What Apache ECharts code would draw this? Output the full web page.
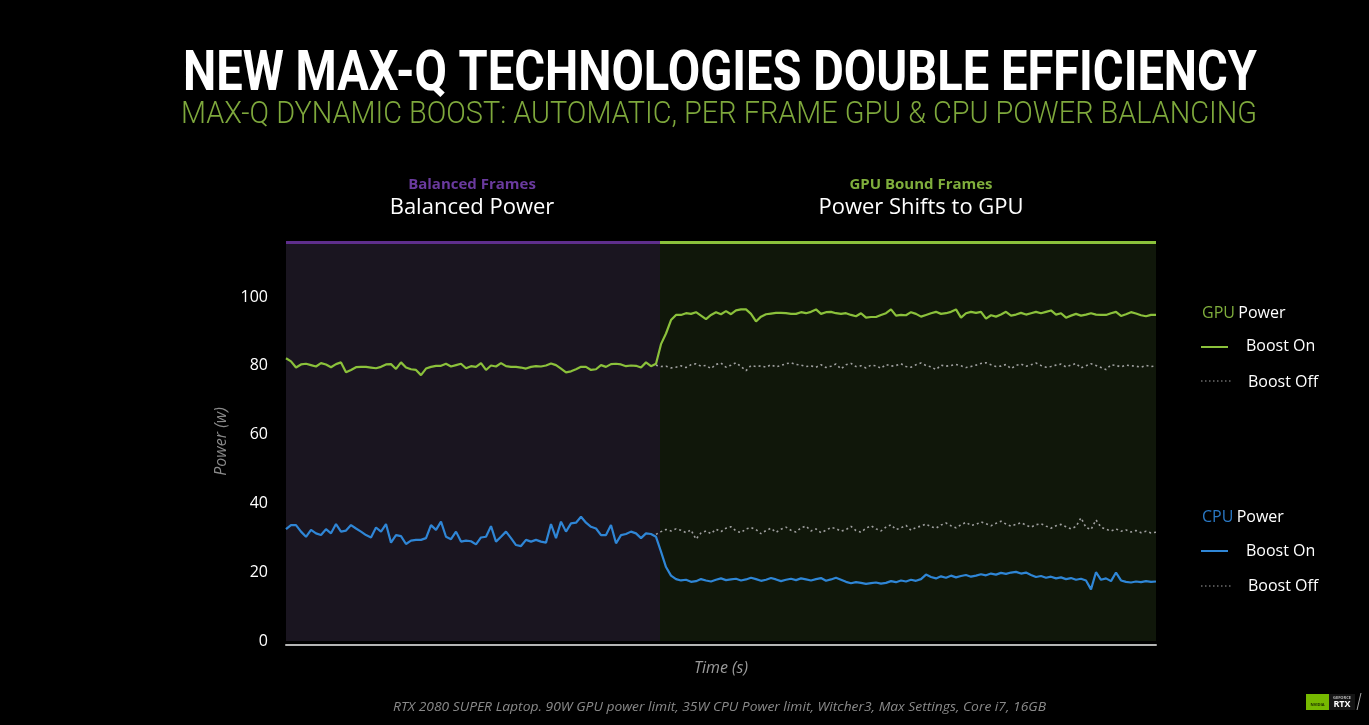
<!DOCTYPE html>
<html><head><meta charset="utf-8">
<script src="https://cdn.jsdelivr.net/npm/echarts@6/dist/echarts.min.js"></script>
<style>html,body{margin:0;padding:0;background:#000;}#c{width:1369px;height:725px;}</style>
</head><body><div id="c"></div>
<script>
// ---- data (time index 0..174, power in W) ----
const yTicks = [0, 20, 40, 60, 80, 100];
const boostStartIndex = 74.8;
const gpuBoostOn = [82.2,81.3,79.5,80.4,80.6,80.2,79.8,80.8,80.4,79.6,80.5,81.0,78.1,78.8,79.6,79.7,79.7,79.5,79.3,79.7,80.4,80.5,79.1,81.0,79.5,79.0,78.8,77.3,79.2,79.7,80.0,80.0,80.6,79.8,80.2,80.6,79.3,79.9,79.7,80.8,78.8,80.1,79.8,80.8,79.9,79.7,79.7,79.5,79.2,79.7,79.9,79.8,80.1,80.7,80.2,79.2,78.1,78.4,79.0,79.7,79.7,78.8,79.0,80.2,79.7,80.5,80.6,80.4,79.9,80.1,80.0,79.5,81.0,79.9,80.6,
  86.3,89.4,93.3,
  94.8,94.8,95.3,95.1,95.6,94.6,93.6,94.8,95.6,95.0,95.9,95.0,96.1,96.4,96.4,95.1,92.9,94.3,95.0,95.2,95.4,95.4,95.3,95.1,95.1,95.6,95.3,95.7,96.4,95.1,95.6,95.7,95.3,95.1,95.3,94.8,94.4,95.3,94.0,94.2,94.2,94.8,95.3,96.4,94.6,94.8,94.7,95.6,95.1,94.3,94.8,95.3,95.7,95.1,95.3,95.7,96.4,94.0,95.3,95.7,95.4,95.7,93.7,94.7,94.3,94.9,95.7,94.6,94.9,95.4,94.9,95.3,95.7,95.3,95.7,96.1,94.9,95.3,94.0,94.6,95.1,94.6,94.9,95.3,94.9,94.8,94.8,95.3,95.7,94.5,95.0,95.6,95.2,94.7,94.4,94.8,94.8];
const gpuBoostOffStart = 74;
const gpuBoostOff = [80.2,79.8,79.9,79.4,79.6,80.0,79.5,80.3,80.6,79.9,80.1,79.2,80.4,80.8,79.6,80.2,80.9,79.8,78.6,80.1,79.8,80.0,79.6,80.3,79.7,80.1,80.6,80.9,80.4,80.2,79.8,80.0,79.6,80.3,79.5,79.9,80.5,79.1,80.3,80.7,79.8,80.0,79.4,80.2,80.0,79.3,80.4,79.9,80.1,80.6,79.8,79.6,80.3,80.8,80.1,79.7,78.9,80.2,79.9,80.1,80.4,80.0,79.5,79.8,80.2,80.7,80.9,80.3,79.8,79.9,80.4,79.2,80.1,80.5,79.9,80.3,80.8,80.1,79.6,79.8,80.2,80.5,79.7,80.2,80.7,79.4,80.0,80.6,80.1,79.5,78.9,80.3,80.1,79.7,80.2,80.0,79.9,79.6,80.1,79.8,80.0];
const cpuBoostOn = [32.5,33.7,33.7,31.8,30.3,32.3,31.3,30.8,32.5,31.3,34.0,31.8,32.1,33.7,32.7,31.8,30.8,30.1,33.0,31.8,34.0,28.6,30.8,30.5,28.2,29.2,29.4,29.4,29.9,33.7,32.3,34.7,30.3,29.6,31.8,28.9,29.2,29.0,28.1,30.1,30.3,33.4,28.9,30.3,31.8,29.9,27.9,27.6,29.4,28.9,29.4,28.9,28.6,34.0,29.9,34.7,31.8,34.2,34.4,36.1,34.4,33.2,32.7,30.8,30.8,33.7,28.4,30.8,31.1,31.8,31.3,29.9,31.3,31.1,30.3,
  26.0,21.5,19.0,
  18.0,17.6,17.8,17.2,17.4,18.0,17.6,17.3,17.8,18.2,17.7,17.9,18.1,
  17.6,17.9,18.4,18.0,17.5,17.8,18.3,17.9,17.4,17.8,18.1,17.7,18.2,17.9,17.6,18.0,18.3,17.5,17.9,18.4,
  17.8,17.2,16.8,17.1,16.9,16.6,16.8,17.0,16.7,16.9,17.4,17.1,17.6,17.3,17.8,
  17.5,18.0,19.3,18.6,18.2,18.8,18.4,19.0,18.5,18.9,19.2,18.7,19.0,19.4,19.1,19.6,19.3,19.8,19.5,19.9,
  20.1,19.6,19.9,19.2,18.6,18.9,18.4,18.7,18.2,18.5,18.0,18.3,17.8,18.1,17.6,
  15.0,20.0,17.8,18.2,17.4,19.9,17.6,17.2,17.0,17.3,17.1,17.4,17.2,17.3];
const cpuBoostOffStart = 74;
const cpuBoostOff = [31.0,31.8,32.4,32.0,32.6,32.2,31.5,32.3,29.6,31.4,32.0,31.2,32.5,31.8,32.8,33.2,32.0,31.5,32.6,33.0,32.4,31.2,32.1,32.8,31.6,32.5,33.1,32.2,31.7,32.9,33.4,32.0,32.6,31.5,32.2,33.0,32.7,31.9,32.4,33.3,32.1,31.6,32.8,33.5,32.6,32.0,33.1,33.8,32.4,32.9,33.6,32.2,33.0,33.4,34.0,33.2,32.8,33.7,34.3,33.5,32.9,33.8,34.5,33.6,33.9,34.6,34.1,33.5,34.2,34.8,34.0,33.4,33.9,34.4,33.7,33.1,33.8,34.1,33.4,32.8,33.5,33.9,33.2,32.6,33.3,35.8,33.0,32.4,35.2,33.1,32.5,32.0,32.6,31.9,32.3,31.7,32.1,31.5,31.9,31.4,31.6];

const GREEN = '#8bc13b', BLUE = '#2f86d6', PURPLE = '#5e2e8c', DOT = '#a0a0a0';
const X_MAX = 174, Y_MAX = 116;

function pairs(arr, start) { return arr.map((v, k) => [start + k, v]); }

// measure text for condensed title scaling
const mctx = document.createElement('canvas').getContext('2d');
function fitScale(text, font, target) { mctx.font = font; return target / mctx.measureText(text).width; }
const TITLE = 'NEW MAX-Q TECHNOLOGIES DOUBLE EFFICIENCY';
const SUB = 'MAX-Q DYNAMIC BOOST: AUTOMATIC, PER FRAME GPU & CPU POWER BALANCING';
const FOOT = 'RTX 2080 SUPER Laptop. 90W GPU power limit, 35W CPU Power limit, Witcher3, Max Settings, Core i7, 16GB';
const titleFont = 'bold 55px Roboto';
const subFont = '300 32px Roboto';
const footFont = 'italic 13px "Open Sans"';
const tS = fitScale(TITLE, titleFont, 1074);
const sS = fitScale(SUB, subFont, 1076);
const fS = fitScale(FOOT, footFont, 653);

const chart = echarts.init(document.getElementById('c'), null, {renderer: 'canvas'});
chart.setOption({
  backgroundColor: '#000',
  animation: false,
  grid: {left: 286, right: 213, top: 242, bottom: 84},
  xAxis: {
    type: 'value', min: 0, max: X_MAX,
    axisLine: {show: true, onZero: false, lineStyle: {color: '#b5b5b5', width: 2}},
    offset: 4,
    axisTick: {show: false}, axisLabel: {show: false}, splitLine: {show: false},
    name: 'Time (s)', nameLocation: 'middle', nameGap: 15,
    nameTextStyle: {color: '#9a9a9a', fontSize: 16, fontStyle: 'italic', fontFamily: 'Open Sans'}
  },
  yAxis: {
    type: 'value', min: 0, max: Y_MAX, interval: 20,
    axisLine: {show: false}, axisTick: {show: false}, splitLine: {show: false},
    axisLabel: {color: '#fff', fontSize: 16, fontFamily: 'Open Sans', margin: 18,
      showMaxLabel: false, formatter: v => yTicks.includes(v) ? String(v) : ''},
    name: 'Power (w)', nameLocation: 'middle', nameGap: 55,
    nameTextStyle: {color: '#8a8a8a', fontSize: 16, fontStyle: 'italic', fontFamily: 'Open Sans'}
  },
  series: [
    {
      name: 'GPU Boost On', type: 'line', showSymbol: false, z: 5,
      data: pairs(gpuBoostOn, 0),
      lineStyle: {color: GREEN, width: 2.2},
      markArea: {silent: true, data: [
        [{xAxis: 0, itemStyle: {color: '#1a1520'}}, {xAxis: boostStartIndex}],
        [{xAxis: boostStartIndex, itemStyle: {color: '#10170a'}}, {xAxis: X_MAX}]
      ]},
      markLine: {silent: true, symbol: 'none', label: {show: false}, data: [
        [{coord: [0, Y_MAX], lineStyle: {color: PURPLE, width: 3, type: 'solid'}}, {coord: [boostStartIndex, Y_MAX]}],
        [{coord: [boostStartIndex, Y_MAX], lineStyle: {color: GREEN, width: 3, type: 'solid'}}, {coord: [X_MAX, Y_MAX]}]
      ]}
    },
    {name: 'GPU Boost Off', type: 'line', showSymbol: false, z: 4,
      data: pairs(gpuBoostOff, gpuBoostOffStart),
      lineStyle: {color: DOT, width: 1.6, type: [2, 3]}},
    {name: 'CPU Boost On', type: 'line', showSymbol: false, z: 5,
      data: pairs(cpuBoostOn, 0),
      lineStyle: {color: BLUE, width: 2.2}},
    {name: 'CPU Boost Off', type: 'line', showSymbol: false, z: 4,
      data: pairs(cpuBoostOff, cpuBoostOffStart),
      lineStyle: {color: DOT, width: 1.6, type: [2, 3]}}
  ],
  graphic: [
    {type: 'text', x: 183, y: 76, scaleX: tS, style: {text: TITLE, font: titleFont, fill: '#fff', verticalAlign: 'middle'}},
    {type: 'text', x: 181, y: 115, scaleX: sS, style: {text: SUB, font: subFont, fill: '#7ea83c', verticalAlign: 'middle'}},
    {type: 'text', x: 472, y: 185, style: {text: 'Balanced Frames', font: 'bold 15px "Open Sans"', fill: '#6a3a9e', align: 'center', verticalAlign: 'middle'}},
    {type: 'text', x: 472, y: 208, style: {text: 'Balanced Power', font: '22px "Open Sans"', fill: '#fff', align: 'center', verticalAlign: 'middle'}},
    {type: 'text', x: 921, y: 185, style: {text: 'GPU Bound Frames', font: 'bold 15px "Open Sans"', fill: '#7fae3c', align: 'center', verticalAlign: 'middle'}},
    {type: 'text', x: 921, y: 208, style: {text: 'Power Shifts to GPU', font: '22px "Open Sans"', fill: '#fff', align: 'center', verticalAlign: 'middle'}},
    // arrows
    {type: 'polygon', shape: {points: [[827,322],[843,339],[835,339],[835,357],[819,357],[819,339],[811,339]]},
      style: {fill: new echarts.graphic.LinearGradient(0,0,0,1,[{offset:0,color:'#94d23c'},{offset:0.55,color:'#6f9f2c'},{offset:1,color:'#1a2608'}])}},
    {type: 'text', x: 854, y: 347, style: {text: '+15W', font: 'bold 20px "Open Sans"', fill: GREEN, verticalAlign: 'middle'}},
    {type: 'polygon', shape: {points: [[819,538],[835,538],[835,560],[843,560],[827,578],[811,560],[819,560]]},
      style: {fill: new echarts.graphic.LinearGradient(0,0,0,1,[{offset:0,color:'#0a1a2a'},{offset:0.45,color:'#1f6db5'},{offset:1,color:'#2f8fe6'}])}},
    {type: 'text', x: 857, y: 556, style: {text: '-15W', font: 'bold 20px "Open Sans"', fill: '#2f8ee2', verticalAlign: 'middle'}},
    // legend
    {type: 'text', x: 1202, y: 313, style: {text: '{g|GPU} {w|Power}', verticalAlign: 'middle',
      rich: {g: {fill: '#7fae3c', font: '16px "Open Sans"'}, w: {fill: '#fff', font: '16px "Open Sans"'}}}},
    {type: 'line', shape: {x1: 1201, y1: 347, x2: 1228, y2: 347}, style: {stroke: GREEN, lineWidth: 2}},
    {type: 'text', x: 1246, y: 346, style: {text: 'Boost On', font: '16px "Open Sans"', fill: '#fff', verticalAlign: 'middle'}},
    {type: 'line', shape: {x1: 1201, y1: 381, x2: 1231, y2: 381}, style: {stroke: DOT, lineWidth: 1.2, lineDash: [1.5, 2.5]}},
    {type: 'text', x: 1248, y: 382, style: {text: 'Boost Off', font: '16px "Open Sans"', fill: '#fff', verticalAlign: 'middle'}},
    {type: 'text', x: 1202, y: 517, style: {text: '{b|CPU} {w|Power}', verticalAlign: 'middle',
      rich: {b: {fill: '#2a78c4', font: '16px "Open Sans"'}, w: {fill: '#fff', font: '16px "Open Sans"'}}}},
    {type: 'line', shape: {x1: 1201, y1: 551, x2: 1228, y2: 551}, style: {stroke: BLUE, lineWidth: 2}},
    {type: 'text', x: 1246, y: 551, style: {text: 'Boost On', font: '16px "Open Sans"', fill: '#fff', verticalAlign: 'middle'}},
    {type: 'line', shape: {x1: 1201, y1: 586, x2: 1231, y2: 586}, style: {stroke: DOT, lineWidth: 1.2, lineDash: [1.5, 2.5]}},
    {type: 'text', x: 1248, y: 586, style: {text: 'Boost Off', font: '16px "Open Sans"', fill: '#fff', verticalAlign: 'middle'}},
    // footer
    {type: 'text', x: 393, y: 707, scaleX: fS, style: {text: FOOT,
      font: footFont, fill: '#8a8a8a', verticalAlign: 'middle'}},
    // badge
    {type: 'rect', shape: {x: 1306, y: 694, width: 23, height: 16}, style: {fill: '#76b900'}},
    {type: 'text', x: 1317.5, y: 705, style: {text: 'NVIDIA', font: 'bold 4px "Open Sans"', fill: '#1a2a00', align: 'center', verticalAlign: 'middle'}},
    {type: 'rect', shape: {x: 1329, y: 694, width: 26, height: 16}, style: {fill: '#141414'}},
    {type: 'text', x: 1342, y: 697.5, style: {text: 'GEFORCE', font: 'bold 4px "Open Sans"', fill: '#bbb', align: 'center', verticalAlign: 'middle'}},
    {type: 'text', x: 1342, y: 704.5, style: {text: 'RTX', font: 'bold 9px "Open Sans"', fill: '#fff', align: 'center', verticalAlign: 'middle'}},
    {type: 'line', shape: {x1: 1357, y1: 710, x2: 1361, y2: 693}, style: {stroke: '#aaa', lineWidth: 1}}
  ]
});
</script>
</body></html>
